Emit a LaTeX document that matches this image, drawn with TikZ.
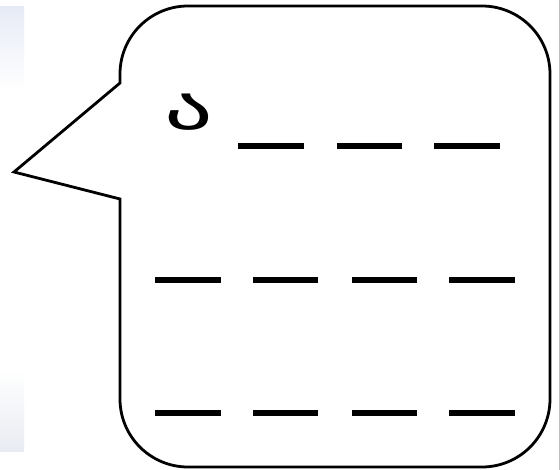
\documentclass[tikz,border=0pt]{standalone}
\usepackage{fontspec}
\newfontfamily\fgeo{DejaVu Sans}
\tikzset{
  bubble/.style={draw=black, line width=2.8pt, line join=miter, fill=white},
  blank/.style={draw=black, line width=6pt},
  glyph/.style={font=\fgeo\fontsize{60}{60}\selectfont, inner sep=0pt, xscale=1.6, transform shape}
}
\begin{document}
\begin{tikzpicture}[x=1pt,y=1pt]
\useasboundingbox (0,0) rectangle (560,470);
\fill[white] (0,0) rectangle (560,470);
% background strips
\shade[top color={rgb,255:red,231;green,235;blue,246}, bottom color=white] (0,380) rectangle (24,463);
\shade[top color=white, bottom color={rgb,255:red,232;green,235;blue,242}] (0,18) rectangle (24,100);
\draw[color={rgb,255:red,190;green,190;blue,190}, line width=1pt] (559,0) -- (559,470);
% speech bubble
\coordinate (tip) at (14,298);
\draw[bubble] (120,271) -- (120,71) arc[start angle=180, end angle=270, radius=68]
  -- (482,3) arc[start angle=270, end angle=360, radius=68]
  -- (550,396) arc[start angle=0, end angle=90, radius=68]
  -- (188,464) arc[start angle=90, end angle=180, radius=68]
  -- (120,387) -- (tip) -- cycle;
% letter
\node[glyph] (letter) at (189,358) {ა};
% blanks row 1
\draw[blank] (238,324) -- (304,324);
\draw[blank] (337,324) -- (402,324);
\draw[blank] (434,324) -- (500,324);
% blanks row 2
\draw[blank] (155,190) -- (221,190);
\draw[blank] (253,190) -- (318,190);
\draw[blank] (352,190) -- (417,190);
\draw[blank] (449,190) -- (515,190);
% blanks row 3
\draw[blank] (155,57) -- (221,57);
\draw[blank] (253,57) -- (318,57);
\draw[blank] (352,57) -- (417,57);
\draw[blank] (449,57) -- (515,57);
\end{tikzpicture}
\end{document}
